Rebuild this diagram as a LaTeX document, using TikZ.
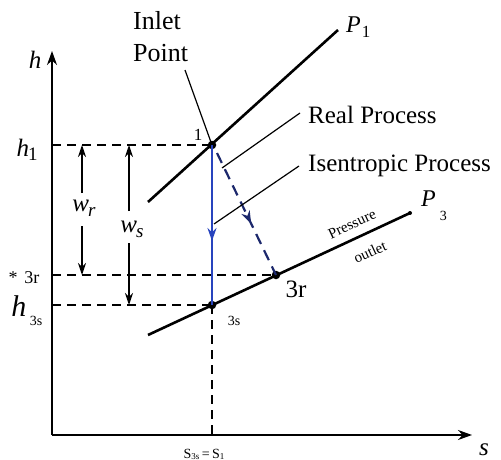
\documentclass[tikz,border=0pt]{standalone}
\usepackage{fontspec}
\setmainfont{Liberation Serif}
\usetikzlibrary{arrows.meta,decorations.markings}
\definecolor{procblue}{RGB}{40,68,190}
\definecolor{navy}{RGB}{28,40,108}
\tikzset{
  dashln/.style={dash pattern=on 9pt off 6pt,line width=1.4pt},
  isobar/.style={line width=2.6pt},
  leader/.style={line width=1.2pt},
  dot/.style={circle,fill=black,inner sep=0pt,minimum size=8.5pt},
  lbl/.style={inner sep=0pt},
  dimarr/.style={line width=1.3pt,-{Stealth[length=12pt,width=8pt]}},
  midarrow/.style={decoration={markings,mark=at position #1 with {\arrow{Stealth[length=13pt,width=9pt]}}},postaction={decorate}}
}
\begin{document}
\begin{tikzpicture}[x=1pt,y=-1pt]
\useasboundingbox (0,0) rectangle (501,460);
% axes
\coordinate (O) at (52,435);
\coordinate (ytop) at (52,51);
\coordinate (xend) at (472,435);
\draw[line width=1.6pt,-{Stealth[length=14pt,width=10pt]}] (O) -- (ytop);
\draw[line width=1.6pt,-{Stealth[length=14pt,width=10pt]}] (O) -- (xend);
\node[lbl,font=\fontsize{25}{27}\selectfont\itshape] (hax) at (35,60) {h};
\node[lbl,font=\fontsize{25}{27}\selectfont\itshape] (sax) at (484,450) {s};
% key points
\node[dot] (p1) at (212,145) {};
\node[dot] (p3s) at (212,305) {};
\node[dot] (p3r) at (276,275) {};
% isobars
\coordinate (P1a) at (148,202);
\coordinate (P1b) at (338,30);
\coordinate (P3a) at (148,335);
\coordinate (P3b) at (410,213);
\draw[isobar] (P1a) -- (P1b);
\draw[isobar] (P3a) -- (P3b);
\fill (P3b) circle (2pt);
\node[lbl,anchor=west,font=\fontsize{24}{26}\selectfont\itshape] (P1lbl) at (346,27) {P\kern1pt\raisebox{-5pt}{\fontsize{17}{19}\selectfont\upshape 1}};
\node[lbl,anchor=west,font=\fontsize{24}{26}\selectfont\itshape] (P3lbl) at (421,206) {P\kern4pt\raisebox{-14pt}{\fontsize{14}{16}\selectfont\upshape 3}};
% dashed guide lines
\coordinate (yh1) at (52,145);
\coordinate (y3r) at (52,275);
\coordinate (y3s) at (52,305);
\coordinate (xs) at (212,435);
\draw[dashln] (yh1) -- (p1.center);
\draw[dashln] (y3r) -- (p3r.center);
\draw[dashln] (y3s) -- (p3s.center);
\draw[dashln] (p3s.center) -- (xs);
% processes
\draw[procblue,line width=2.2pt,midarrow=0.6] (p1.center) -- (p3s.center);
\coordinate (rs) at (217,153);
\draw[navy,line width=2.2pt,dash pattern=on 11pt off 7pt,midarrow=0.58] (rs) -- (p3r.center);
% work arrows
\node[lbl,font=\fontsize{25}{27}\selectfont\itshape] (wr) at (84,208) {w\kern-1pt\raisebox{-5pt}{\fontsize{19}{21}\selectfont r}};
\node[lbl,font=\fontsize{25}{27}\selectfont\itshape] (ws) at (132,229) {w\kern-1pt\raisebox{-5pt}{\fontsize{19}{21}\selectfont s}};
\coordinate (wrt) at (82,145);
\coordinate (wrb) at (82,275);
\coordinate (wst) at (129,145);
\coordinate (wsb) at (129,305);
\draw[dimarr] (82,193) -- (wrt);
\draw[dimarr] (82,226) -- (wrb);
\draw[dimarr] (129,211) -- (wst);
\draw[dimarr] (129,243) -- (wsb);
% axis labels left
\node[lbl,font=\fontsize{25}{27}\selectfont\itshape] (h1) at (27,150) {h\kern-1pt\raisebox{-4pt}{\fontsize{19}{21}\selectfont\upshape 1}};
\node[lbl,font=\fontsize{18}{20}\selectfont] (star3r) at (24,278) {*\kern7pt 3r};
\node[lbl,font=\fontsize{30}{32}\selectfont\itshape] (h3s) at (19,306) {h};
\node[lbl,font=\fontsize{14}{16}\selectfont] (h3ssub) at (36,321) {3s};
% point labels
\node[lbl,font=\fontsize{17}{19}\selectfont] (l1) at (198,135) {1};
\node[lbl,font=\fontsize{14}{16}\selectfont] (l3s) at (234,321) {3s};
\node[lbl,font=\fontsize{25}{27}\selectfont] (l3r) at (296,289) {3r};
\node[lbl,font=\fontsize{15}{17}\selectfont,rotate=25] (pres) at (352,224) {Pressure};
\node[lbl,font=\fontsize{15}{17}\selectfont,rotate=25] (outl) at (370,252) {outlet};
\node[lbl,font=\fontsize{14}{16}\selectfont] (sl) at (204,454) {S\raisebox{-1pt}{\fontsize{9}{10}\selectfont 3s}\,=\,S\raisebox{-1pt}{\fontsize{9}{10}\selectfont 1}};
% annotations
\node[lbl,align=left,anchor=base west,font=\fontsize{26}{30}\selectfont] (inlet) at (133,30) {Inlet};
\node[lbl,align=left,anchor=base west,font=\fontsize{26}{30}\selectfont] (point) at (133,62) {Point};
\coordinate (inl) at (185,70);
\draw[leader] (inl) -- (p1.center);
\node[lbl,anchor=base west,font=\fontsize{25}{27}\selectfont] (real) at (308,123) {Real Process};
\node[lbl,anchor=base west,font=\fontsize{25}{27}\selectfont] (isen) at (308,171) {Isentropic Process};
\coordinate (realA) at (300,113);
\coordinate (realB) at (222,168);
\coordinate (isenA) at (299,166);
\coordinate (isenB) at (214,224);
\draw[leader] (realA) -- (realB);
\draw[leader] (isenA) -- (isenB);
\end{tikzpicture}
\end{document}
